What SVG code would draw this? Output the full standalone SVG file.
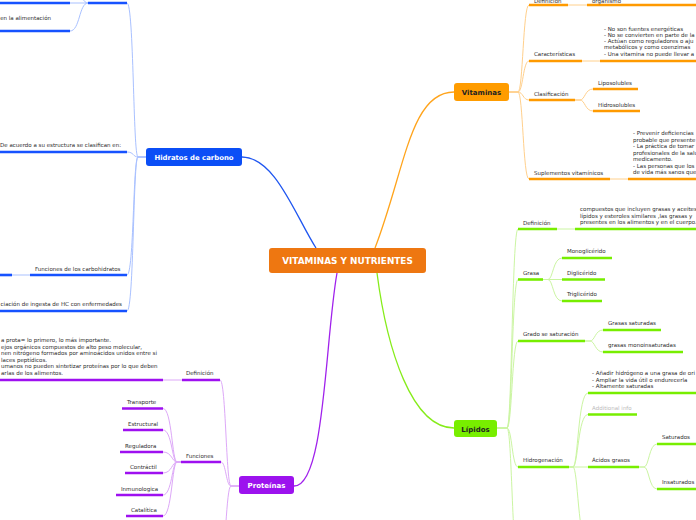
<svg xmlns="http://www.w3.org/2000/svg" width="696" height="520" viewBox="0 0 696 520">
<style>
.c{fill:none;stroke-width:1}
.cb{stroke:#A9C1FF}.co{stroke:#FFD08C}.cg{stroke:#CBF5A2}.cp{stroke:#DDA8F8}
.m{fill:none;stroke-width:1.3}
.u{stroke-width:2.6;stroke-linecap:butt}
.ub{stroke:#1652FF}.uo{stroke:#FF9A00}.ug{stroke:#77EE00}.up{stroke:#9E10F0}
.t{font-family:"DejaVu Sans",Verdana,sans-serif;font-size:5.5px;fill:#2c2c2c}
.e{text-anchor:end}
.h{font-family:"DejaVu Sans",Verdana,sans-serif;font-weight:bold;text-anchor:middle}
</style>
<rect width="696" height="520" fill="#ffffff"/>
<g id="connectors">
<path class="m" stroke="#1F56F0" d="M242,157 C275,157 295,215 316,248"/>
<path class="m" stroke="#FFA41C" d="M375,248 C405,170 410,92 454,92"/>
<path class="m" stroke="#86EC1A" d="M377,273 C387,350 412,428 454,428"/>
<path class="m" stroke="#A021EC" d="M337,273 C325,340 325,486 294,486"/>
<g class="c cb">
<path d="M146,157 L138,157 C133,157 134,3 127,3"/>
<path d="M146,157 L138,157 C133,157 134,152 127,152"/>
<path d="M146,157 L138,157 C133,157 134,275 127,275"/>
<path d="M146,157 L138,157 C133,157 134,311 127,311"/>
<path d="M88,3 L70,3"/>
<path d="M88,3 C79,3 80,-25 70,-25"/>
<path d="M88,3 C79,3 80,31 70,31"/>
<path d="M30,275 L12,275"/>
</g>
<g class="c co">
<path d="M509,92 L518,92 C523,92 523,5 529,5"/>
<path d="M509,92 L518,92 C523,92 523,61 529,61"/>
<path d="M509,92 L518,92 C523,92 523,100 529,100"/>
<path d="M509,92 L518,92 C523,92 523,179 529,179"/>
<path d="M568,5 L587,5"/>
<path d="M582,61 L600,61"/>
<path d="M610,179 L628,179"/>
<path d="M575,100 L580,100 C585,100 585,89 593,89"/>
<path d="M575,100 L580,100 C585,100 585,111 593,111"/>
</g>
<g class="c cg">
<path d="M497,428 L507,428 C512,428 512,229 518,229"/>
<path d="M497,428 L507,428 C512,428 512,279.5 518,279.5"/>
<path d="M497,428 L507,428 C512,428 512,341 518,341"/>
<path d="M497,428 L507,428 C512,428 512,467 518,467"/>
<path d="M497,428 L507,428 C512,428 512,560 518,560"/>
<path d="M557,229 L575,229"/>
<path d="M543,279.5 L548,279.5 C553,279.5 553,258 562,258"/>
<path d="M543,279.5 L562,279.5"/>
<path d="M543,279.5 L548,279.5 C553,279.5 553,301 562,301"/>
<path d="M585,341 L590,341 C595,341 595,330 603,330"/>
<path d="M585,341 L590,341 C595,341 595,352 603,352"/>
<path d="M569,467 L573,467 C578,467 578,393 588,393"/>
<path d="M569,467 L573,467 C578,467 578,414.5 588,414.5"/>
<path d="M569,467 L588,467"/>
<path d="M569,467 L573,467 C578,467 578,545 588,545"/>
<path d="M639,467 L644,467 C649,467 649,444 657,444"/>
<path d="M639,467 L644,467 C649,467 649,489 657,489"/>
</g>
<g class="c cp">
<path d="M240,486 L231,486 C226,486 226,380 220,380"/>
<path d="M240,486 L231,486 C226,486 226,462 221,462"/>
<path d="M240,486 L231,486 C226,486 226,560 220,560"/>
<path d="M182,380 L163,380"/>
<path d="M181,462 L177,462 C172,462 172,408.5 163,408.5"/>
<path d="M181,462 L177,462 C172,462 172,430 163,430"/>
<path d="M181,462 L177,462 C172,462 172,452 163,452"/>
<path d="M181,462 L177,462 C172,462 172,473 163,473"/>
<path d="M181,462 L177,462 C172,462 172,495 163,495"/>
<path d="M181,462 L177,462 C172,462 172,516 163,516"/>
</g>
</g>

<g id="center">
<rect x="269" y="248" width="157" height="25" rx="3" fill="#EE7711"/>
<text class="h" x="347.5" y="264" font-size="8.9" fill="#ffffff">VITAMINAS Y NUTRIENTES</text>
</g>

<g id="hidratos">
<rect x="146" y="148" width="96" height="18" rx="3" fill="#0B4EF6"/>
<text class="h" x="194" y="160" font-size="6.9" fill="#ffffff">Hidratos de carbono</text>
</g>
<g id="hc-top"><line class="u ub" x1="88" y1="3" x2="127" y2="3"/></g>
<g id="hc-top-a"><line class="u ub" x1="0" y1="3" x2="70" y2="3"/></g>
<g id="hc-top-b"><line class="u ub" x1="0" y1="31" x2="70" y2="31"/><text class="t e" x="51" y="20">en la alimentación</text></g>
<g id="hc-estructura"><line class="u ub" x1="0" y1="152" x2="127" y2="152"/><text class="t e" x="121" y="147">De acuerdo a su estructura se clasifican en:</text></g>
<g id="hc-funciones"><line class="u ub" x1="30" y1="275" x2="127" y2="275"/><text class="t" x="35" y="271">Funciones de los carbohidratos</text></g>
<g id="hc-funciones-a"><line class="u ub" x1="0" y1="275" x2="12" y2="275"/></g>
<g id="hc-asociacion"><line class="u ub" x1="0" y1="311" x2="127" y2="311"/><text class="t e" x="122" y="306">ciación de ingesta de HC con enfermedades</text></g>

<g id="vitaminas">
<rect x="454" y="83" width="55" height="18" rx="3" fill="#FF9C00"/>
<text class="h" x="481.5" y="95" font-size="7" fill="#222222">Vitaminas</text>
</g>
<g id="vit-def"><line class="u uo" x1="529" y1="5" x2="568" y2="5"/><text class="t" x="534" y="2.5">Definición</text></g>
<g id="vit-def-a"><line class="u uo" x1="587" y1="5" x2="696" y2="5"/><text class="t" x="592" y="2.5">organismo</text></g>
<g id="vit-car"><line class="u uo" x1="529" y1="61" x2="582" y2="61"/><text class="t" x="534" y="55.5">Características</text></g>
<g id="vit-car-a"><line class="u uo" x1="600" y1="61" x2="696" y2="61"/>
<text class="t" x="604" y="30.5">- No son fuentes energéticas</text>
<text class="t" x="604" y="36.8">- No se convierten en parte de la</text>
<text class="t" x="604" y="43.1">- Actúan como reguladores o aju</text>
<text class="t" x="604" y="49.4">metabólicos y como coenzimas</text>
<text class="t" x="604" y="55.7">- Una vitamina no puede llevar a</text></g>
<g id="vit-cla"><line class="u uo" x1="529" y1="100" x2="575" y2="100"/><text class="t" x="534" y="96">Clasificación</text></g>
<g id="vit-lipo"><line class="u uo" x1="593" y1="89" x2="638" y2="89"/><text class="t" x="598" y="85">Liposolubles</text></g>
<g id="vit-hidro"><line class="u uo" x1="593" y1="111" x2="640" y2="111"/><text class="t" x="598" y="106.5">Hidrosolubles</text></g>
<g id="vit-sup"><line class="u uo" x1="529" y1="179" x2="610" y2="179"/><text class="t" x="534" y="174.5">Suplementos vitamínicos</text></g>
<g id="vit-sup-a"><line class="u uo" x1="628" y1="179" x2="696" y2="179"/>
<text class="t" x="633" y="135">- Prevenir deficiencias</text>
<text class="t" x="633" y="141.5">probable que presente</text>
<text class="t" x="633" y="148">- La práctica de tomar</text>
<text class="t" x="633" y="154.5">profesionales de la salu</text>
<text class="t" x="633" y="161">medicamento.</text>
<text class="t" x="633" y="167.5">- Las personas que los</text>
<text class="t" x="633" y="174">de vida más sanos que</text></g>

<g id="lipidos">
<rect x="454" y="420" width="43" height="17" rx="3" fill="#78EE00"/>
<text class="h" x="475.5" y="431.5" font-size="7" fill="#222222">Lípidos</text>
</g>
<g id="lip-def"><line class="u ug" x1="518" y1="229" x2="557" y2="229"/><text class="t" x="523" y="224.5">Definición</text></g>
<g id="lip-def-a"><line class="u ug" x1="575" y1="229" x2="696" y2="229"/>
<text class="t" x="580" y="211">compuestos que incluyen grasas y aceites</text>
<text class="t" x="580" y="217.5">lípidos y esteroles similares ,las grasas y</text>
<text class="t" x="580" y="224">presentes en los alimentos y en el cuerpo.</text></g>
<g id="lip-grasa"><line class="u ug" x1="518" y1="279.5" x2="543" y2="279.5"/><text class="t" x="523" y="274.5">Grasa</text></g>
<g id="lip-mono"><line class="u ug" x1="562" y1="258" x2="612" y2="258"/><text class="t" x="567" y="253">Monoglicérido</text></g>
<g id="lip-di"><line class="u ug" x1="562" y1="279.5" x2="605" y2="279.5"/><text class="t" x="567" y="274.5">Diglicérido</text></g>
<g id="lip-tri"><line class="u ug" x1="562" y1="301" x2="602" y2="301"/><text class="t" x="567" y="296">Triglicérido</text></g>
<g id="lip-grado"><line class="u ug" x1="518" y1="341" x2="585" y2="341"/><text class="t" x="523" y="336">Grado se saturación</text></g>
<g id="lip-sat"><line class="u ug" x1="603" y1="330" x2="661" y2="330"/><text class="t" x="608" y="325">Grasas saturadas</text></g>
<g id="lip-mono-ins"><line class="u ug" x1="603" y1="352" x2="683" y2="352"/><text class="t" x="608" y="346.5">grasas monoinsaturadas</text></g>
<g id="lip-hidro"><line class="u ug" x1="518" y1="467" x2="569" y2="467"/><text class="t" x="523" y="462">Hidrogenación</text></g>
<g id="lip-hidro-a"><line class="u ug" x1="588" y1="393" x2="696" y2="393"/>
<text class="t" x="592" y="375">- Añadir hidrógeno a una grasa de ori</text>
<text class="t" x="592" y="381.5"> - Ampliar la vida útil o endurecerla</text>
<text class="t" x="592" y="388">- Altamente saturadas</text></g>
<g id="lip-info"><line class="u ug" x1="588" y1="414.5" x2="637" y2="414.5"/><text class="t" x="592" y="410" style="fill:#bbbbbb">Additional info</text></g>
<g id="lip-acidos"><line class="u ug" x1="588" y1="467" x2="639" y2="467"/><text class="t" x="592" y="462">Ácidos grasos</text></g>
<g id="lip-saturados"><line class="u ug" x1="657" y1="444" x2="696" y2="444"/><text class="t" x="662" y="439">Saturados</text></g>
<g id="lip-insaturados"><line class="u ug" x1="657" y1="489" x2="696" y2="489"/><text class="t" x="662" y="484">Insaturados</text></g>

<g id="proteinas">
<rect x="239" y="476" width="55" height="18" rx="3" fill="#9C12EE"/>
<text class="h" x="266.5" y="488" font-size="7" fill="#ffffff">Proteínas</text>
</g>
<g id="pro-def"><line class="u up" x1="182" y1="380" x2="220" y2="380"/><text class="t" x="186" y="375">Definición</text></g>
<g id="pro-def-a"><line class="u up" x1="0" y1="380" x2="163" y2="380"/>
<text class="t" x="1" y="342">a prota= lo primero, lo más importante.</text>
<text class="t" x="1" y="348.6">ejos orgánicos compuestos de alto peso molecular,</text>
<text class="t" x="1" y="355.2">nen nitrógeno formados por aminoácidos unidos entre si</text>
<text class="t" x="1" y="361.8">laces peptídicos.</text>
<text class="t" x="1" y="368.4">umanos no pueden sintetizar proteínas por lo que deben</text>
<text class="t" x="1" y="375">arlas de los alimentos.</text></g>
<g id="pro-fun"><line class="u up" x1="181" y1="462" x2="221" y2="462"/><text class="t" x="186" y="458">Funciones</text></g>
<g id="pro-trans"><line class="u up" x1="122" y1="408.5" x2="163" y2="408.5"/><text class="t" x="127" y="404">Transporte</text></g>
<g id="pro-estr"><line class="u up" x1="123" y1="430" x2="163" y2="430"/><text class="t" x="128" y="426">Estructural</text></g>
<g id="pro-reg"><line class="u up" x1="120" y1="452" x2="163" y2="452"/><text class="t" x="125" y="447.5">Reguladora</text></g>
<g id="pro-con"><line class="u up" x1="125" y1="473" x2="163" y2="473"/><text class="t" x="130" y="469">Contráctil</text></g>
<g id="pro-inm"><line class="u up" x1="116" y1="495" x2="163" y2="495"/><text class="t" x="121" y="490.5">Inmunologica</text></g>
<g id="pro-cat"><line class="u up" x1="126" y1="516" x2="163" y2="516"/><text class="t" x="131" y="512">Catalítica</text></g>
</svg>
